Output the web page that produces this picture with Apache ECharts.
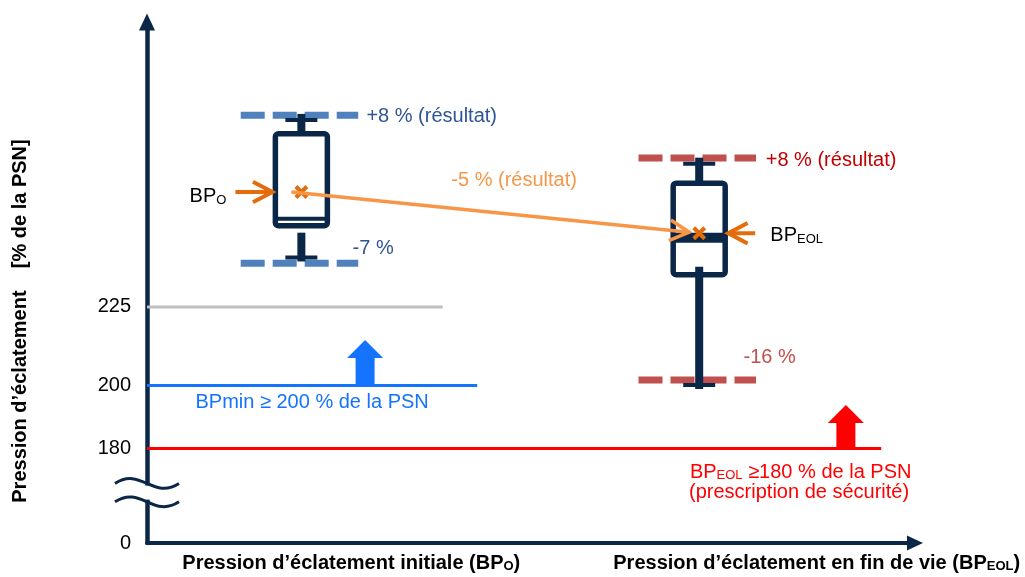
<!DOCTYPE html>
<html>
<head>
<meta charset="utf-8">
<script src="https://cdn.jsdelivr.net/npm/echarts@6/dist/echarts.min.js"></script>
<style>
html, body { margin: 0; padding: 0; background: #fff; }
#chart { width: 1025px; height: 577px; }
</style>
</head>
<body>
<div id="chart"></div>
<script>
// Données (en % de la PSN) - l'axe est coupé : la valeur 150 est affichée "0"
const boxX = [20.1, 71.9];
const boxLow = [240.7, 200.2];
const boxQ1 = [250.8, 235.2];
const boxMedian = [253.0, 247.0];
const boxQ3 = [280.0, 264.3];
const boxHigh = [284.4, 270.5];
const meanValues = [261.5, 248.4];
const boundUpper = [285.9, 272.3];   // +8 %
const boundLower = [238.9, 201.8];   // -7 % / -16 %
const limitValues = [225, 200, 180];
const limitEnds = [38.5, 43.0, 95.6];
const arrowX = [28.4, 91.0];
const arrowBase = [200, 180];
const arrowTop = [214.5, 193.8];
const yTickValues = [150, 180, 200, 225];
const yTickLabels = ['0', '180', '200', '225'];
const xLabelValues = [26.6, 87.2];
const xLabels = [
    '{b|Pression d’éclatement initiale (BP}{bs|O}{b|)}',
    '{b|Pression d’éclatement en fin de vie (BP}{bs|EOL}{b|)}'
];

// Styles
const FONT = 'Liberation Sans, Arial, sans-serif';
const NAVY = '#0b2747';
const ORANGE = '#e46c0a';
const ORANGE_LIGHT = '#f79646';
const boundColors = ['#4f81bd', '#c0504d'];
const limitColors = ['#bfbfbf', '#1473ff', '#ff0000'];
const arrowColors = ['#1473ff', '#ff0000'];
const medianWidths = [4, 10];
const lowerWhiskerGap = [7, -8];
const pointerLen = [37, 27];

// Annotations (coordonnées dans le repère du graphique)
const notes = [
    { at: [28.5, 285.6], text: '+8 % (résultat)', color: '#2f5496', pos: 'right' },
    { at: [26.7, 243.4], text: '-7 %', color: '#2f5496', pos: 'right' },
    { at: [80.5, 271.6], text: '+8 % (résultat)', color: '#c00000', pos: 'right' },
    { at: [77.6, 208.9], text: '-16 %', color: '#c0504d', pos: 'right' },
    { at: [47.8, 265.0], text: '-5 % (résultat)', color: ORANGE_LIGHT, pos: 'inside' },
    { at: [10.4, 260.0], text: '{m|BP}{s|O}', color: '#000', pos: 'left' },
    { at: [81.1, 247.7], text: '{m|BP}{s|EOL}', color: '#000', pos: 'right' },
    { at: [21.5, 194.5], text: 'BPmin ≥ 200 % de la PSN', color: '#1473ff', pos: 'inside' },
    { at: [99.6, 172.5], text: '{m|BP}{s|EOL}{m| ≥180 % de la PSN}', color: '#ff0000', pos: 'left' },
    { at: [99.3, 165.9], text: '(prescription de sécurité)', color: '#ff0000', pos: 'left' }
];

function chevron(tip, from, len, color, width) {
    const dx = tip[0] - from[0], dy = tip[1] - from[1];
    const d = Math.sqrt(dx * dx + dy * dy);
    const ux = dx / d, uy = dy / d;
    const a = 28 * Math.PI / 180;
    const bx = tip[0] - ux * len * Math.cos(a), by = tip[1] - uy * len * Math.cos(a);
    const nx = -uy * len * Math.sin(a), ny = ux * len * Math.sin(a);
    return {
        type: 'polyline',
        shape: { points: [[bx + nx, by + ny], tip, [bx - nx, by - ny]] },
        style: { stroke: color, lineWidth: width, fill: null, lineJoin: 'miter' }
    };
}

function renderBox(params, api) {
    const i = params.dataIndex;
    const x = api.value(0);
    const pLow = api.coord([x, api.value(1)]);
    const pQ1 = api.coord([x, api.value(2)]);
    const pMed = api.coord([x, api.value(3)]);
    const pQ3 = api.coord([x, api.value(4)]);
    const pHigh = api.coord([x, api.value(5)]);
    const cx = pLow[0];
    const half = 26, cap = 16;
    return {
        type: 'group',
        children: [
            { type: 'line', shape: { x1: cx, y1: pHigh[1] - 6, x2: cx, y2: pQ3[1] }, style: { stroke: NAVY, lineWidth: 8 } },
            { type: 'line', shape: { x1: cx - cap, y1: pHigh[1], x2: cx + cap, y2: pHigh[1] }, style: { stroke: NAVY, lineWidth: 4 } },
            { type: 'rect', shape: { x: cx - half, y: pQ3[1], width: half * 2, height: pQ1[1] - pQ3[1], r: 3 },
              style: { fill: '#fff', stroke: NAVY, lineWidth: 5.5 } },
            { type: 'line', shape: { x1: cx - half, y1: pMed[1], x2: cx + half, y2: pMed[1] }, style: { stroke: NAVY, lineWidth: medianWidths[i] } },
            { type: 'line', shape: { x1: cx, y1: pQ1[1] + lowerWhiskerGap[i], x2: cx, y2: pLow[1] + 4 }, style: { stroke: NAVY, lineWidth: 8 } },
            { type: 'line', shape: { x1: cx - cap, y1: pLow[1], x2: cx + cap, y2: pLow[1] }, style: { stroke: NAVY, lineWidth: 4 } }
        ]
    };
}

function renderMean(params, api) {
    const i = params.dataIndex;
    const p = api.coord([api.value(0), api.value(1)]);
    const s = 5.5;
    const half = 26;
    const tip = i === 0 ? [p[0] - half - 3, p[1]] : [p[0] + half + 3, p[1]];
    const start = i === 0 ? [tip[0] - pointerLen[i], p[1]] : [tip[0] + pointerLen[i], p[1]];
    return {
        type: 'group',
        children: [
            { type: 'line', shape: { x1: start[0], y1: start[1], x2: tip[0], y2: tip[1] }, style: { stroke: ORANGE, lineWidth: 4 } },
            chevron(tip, start, 22, ORANGE, 4),
            { type: 'line', shape: { x1: p[0] - s, y1: p[1] - s, x2: p[0] + s, y2: p[1] + s }, style: { stroke: ORANGE, lineWidth: 4 } },
            { type: 'line', shape: { x1: p[0] - s, y1: p[1] + s, x2: p[0] + s, y2: p[1] - s }, style: { stroke: ORANGE, lineWidth: 4 } }
        ]
    };
}

function renderLink(params, api) {
    const p1 = api.coord([api.value(0), api.value(1)]);
    const p2 = api.coord([api.value(2), api.value(3)]);
    const a = [p1[0] - 10, p1[1]];
    const b = [p2[0] - 10, p2[1] - 1];
    return {
        type: 'group',
        children: [
            { type: 'line', shape: { x1: a[0], y1: a[1], x2: b[0], y2: b[1] }, style: { stroke: ORANGE_LIGHT, lineWidth: 3.5 } },
            chevron(b, a, 22, ORANGE_LIGHT, 3.5)
        ]
    };
}

function renderArrow(params, api) {
    const i = params.dataIndex;
    const pBase = api.coord([api.value(0), api.value(1)]);
    const pTop = api.coord([api.value(0), api.value(2)]);
    const cx = pBase[0], sh = 9.5, hh = 18, hl = 18;
    return {
        type: 'polygon',
        shape: {
            points: [
                [cx - sh, pBase[1]], [cx - sh, pTop[1] + hl], [cx - hh, pTop[1] + hl],
                [cx, pTop[1]], [cx + hh, pTop[1] + hl], [cx + sh, pTop[1] + hl], [cx + sh, pBase[1]]
            ]
        },
        style: { fill: arrowColors[i] }
    };
}

const series = [];

// Seuils 225 / 200 / 180
limitValues.forEach((v, i) => {
    series.push({
        type: 'line', silent: true, symbol: 'none', z: 2,
        data: [[0, v], [limitEnds[i], v]],
        lineStyle: { color: limitColors[i], width: 3 }
    });
});

// Bornes en tirets (+8 % / -7 %, +8 % / -16 %)
boxX.forEach((x, i) => {
    [boundUpper[i], boundLower[i]].forEach(v => {
        series.push({
            type: 'line', silent: true, symbol: 'none', z: 3,
            data: [[x - 7.9, v], [x + 7.4, v]],
            lineStyle: { color: boundColors[i], width: 7, type: [24, 8], cap: 'butt' }
        });
    });
});

series.push({
    type: 'custom', renderItem: renderArrow, silent: true, z: 4,
    data: arrowX.map((x, i) => [x, arrowBase[i], arrowTop[i]])
});

series.push({
    type: 'custom', renderItem: renderBox, silent: true, z: 5,
    data: boxX.map((x, i) => [x, boxLow[i], boxQ1[i], boxMedian[i], boxQ3[i], boxHigh[i]])
});

series.push({
    type: 'custom', renderItem: renderMean, silent: true, z: 6,
    data: boxX.map((x, i) => [x, meanValues[i]])
});

series.push({
    type: 'custom', renderItem: renderLink, silent: true, z: 7,
    encode: { x: [0, 2], y: [1, 3] },
    data: [[boxX[0], meanValues[0], boxX[1], meanValues[1]]]
});

series.push({
    type: 'scatter', silent: true, symbolSize: 1, z: 8,
    itemStyle: { color: 'rgba(0,0,0,0)', opacity: 1 },
    data: notes.map(n => ({
        value: n.at,
        label: {
            show: true,
            position: n.pos,
            distance: 0,
            formatter: n.text,
            color: n.color,
            opacity: 1,
            fontSize: 20,
            fontFamily: FONT,
            rich: {
                m: { color: n.color, fontSize: 20, fontFamily: FONT, lineHeight: 20, verticalAlign: 'bottom' },
                s: { color: n.color, fontSize: 13, fontFamily: FONT, lineHeight: 13, verticalAlign: 'bottom' }
            }
        }
    }))
});

const chart = echarts.init(document.getElementById('chart'));

chart.setOption({
    animation: false,
    backgroundColor: '#fff',
    textStyle: { fontFamily: FONT },
    grid: { left: 147, right: 110, top: 22, bottom: 34, containLabel: false },
    xAxis: {
        type: 'value', min: 0, max: 100,
        axisLine: {
            onZero: false,
            symbol: ['none', 'triangle'], symbolSize: [15, 16],
            lineStyle: { color: NAVY, width: 4 }
        },
        axisTick: { show: false },
        splitLine: { show: false },
        axisLabel: {
            customValues: xLabelValues,
            margin: 10,
            formatter: v => xLabels[xLabelValues.indexOf(v)] || '',
            rich: {
                b: { fontSize: 20, fontWeight: 'bold', color: '#000', fontFamily: FONT, lineHeight: 20, verticalAlign: 'bottom' },
                bs: { fontSize: 13, fontWeight: 'bold', color: '#000', fontFamily: FONT, lineHeight: 13, verticalAlign: 'bottom' }
            }
        }
    },
    yAxis: {
        type: 'value', min: 150, max: 315.5,
        axisLine: {
            show: true,
            symbol: ['none', 'triangle'], symbolSize: [16, 17],
            lineStyle: { color: NAVY, width: 4.5 }
        },
        axisTick: { show: false },
        splitLine: { show: false },
        axisLabel: {
            customValues: yTickValues,
            margin: 16,
            fontSize: 20,
            color: '#000',
            formatter: v => yTickLabels[yTickValues.indexOf(v)]
        }
    },
    series: series
});

// Coupure de l'axe et titre vertical
const pBreak = chart.convertToPixel({ gridIndex: 0 }, [0, 166.0]);
const wave = { x1: -32, y1: 0, cpx1: -6, cpy1: -17, cpx2: 6, cpy2: 17, x2: 32, y2: 0 };
chart.setOption({
    graphic: [
        {
            type: 'group', x: pBreak[0], y: pBreak[1], z: 100, silent: true,
            children: [
                { type: 'rect', z: 100, shape: { x: -6, y: -7, width: 12, height: 14 }, style: { fill: '#fff' } },
                { type: 'bezierCurve', z: 101, y: -9.2, shape: wave, style: { stroke: NAVY, lineWidth: 3, fill: null } },
                { type: 'bezierCurve', z: 101, y: 9.2, shape: wave, style: { stroke: NAVY, lineWidth: 3, fill: null } }
            ]
        },
        {
            type: 'text', x: 20.5, y: 321, rotation: Math.PI / 2, silent: true,
            style: {
                text: 'Pression d’éclatement    [% de la PSN]',
                font: 'bold 20px ' + FONT,
                fill: '#000',
                align: 'center',
                verticalAlign: 'middle'
            }
        }
    ]
});

window.addEventListener('resize', function () {
    chart.resize();
});
</script>
</body>
</html>
